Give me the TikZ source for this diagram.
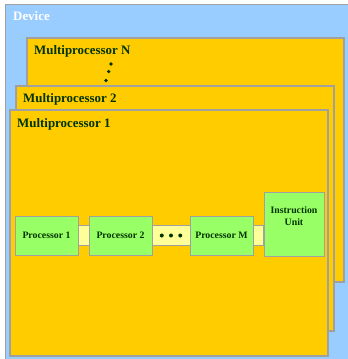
\documentclass[tikz,border=0pt]{standalone}
\usepackage{fontspec}
\setmainfont{Liberation Serif}
\usepackage{tikz}
\usetikzlibrary{positioning,calc}

\definecolor{devblue}{HTML}{99CCFF}
\definecolor{mpgold}{HTML}{FFCC00}
\definecolor{procgreen}{HTML}{99FF66}
\definecolor{barcream}{HTML}{FFFF99}
\definecolor{edgegray}{HTML}{A0A0A0}
\definecolor{textgreen}{HTML}{003300}

\pgfdeclarelayer{frames}
\pgfdeclarelayer{links}
\pgfsetlayers{frames,links,main}

\begin{document}
\begin{tikzpicture}[
  x=1pt,y=-1pt,
  mpbox/.style={draw=edgegray,fill=mpgold,line width=1.2pt},
  mplabel/.style={anchor=base west,inner sep=0,text=textgreen,font=\fontsize{12.9}{14}\selectfont\bfseries},
  proc/.style={draw=edgegray,fill=procgreen,line width=1pt,minimum width=63pt,minimum height=39pt,
    inner sep=0,text=textgreen,font=\fontsize{9.8}{12}\selectfont\bfseries},
  bar/.style={draw=edgegray,fill=barcream,line width=1pt},
  dotfill/.style={fill=textgreen}
]
  \useasboundingbox (0,0) rectangle (348,359);
  \begin{pgfonlayer}{frames}
  % device background
  \draw[draw=edgegray,fill=devblue,line width=0.8pt] (5.5,4) rectangle (352,363);
  % stacked multiprocessors
  \draw[mpbox] (27,38) rectangle (344,282);
  \draw[mpbox] (16,86) rectangle (334,331);
  \draw[mpbox] (10,110) rectangle (328,356);
  \end{pgfonlayer}
  \node[anchor=base west,inner sep=0,text=white,font=\fontsize{12.9}{14}\selectfont\bfseries] (device) at (13,20.7) {Device};
  \node[mplabel] (mpN) at (34,54) {Multiprocessor N};
  \fill[dotfill] (111,64) circle (1.8) (108.7,71.5) circle (1.8) (106,80.5) circle (1.8);
  \node[mplabel] (mp2) at (23,102) {Multiprocessor 2};
  \node[mplabel] (mp1) at (17,127.7) {Multiprocessor 1};

  % processors and instruction unit
  \node[proc] (p1) at (46.5,235.5) {Processor 1};
  \node[proc,right=10pt of p1] (p2) {Processor 2};
  \node[proc,right=37pt of p2] (pM) {Processor M};
  \node[proc,anchor=south west,minimum width=60pt,minimum height=64pt,
    align=center,text depth=16pt] (iu) at ([xshift=10pt,yshift=-1pt]pM.south east) {Instruction\\Unit};

  % connecting bar
  \begin{pgfonlayer}{links}
  \draw[bar] ([yshift=10pt]p1.east) rectangle ([yshift=-10pt]iu.west |- p1.east);
  \end{pgfonlayer}
  \fill[dotfill] ($(p2.east)!0.25!(pM.west)$) circle (2)
    ($(p2.east)!0.5!(pM.west)$) circle (2)
    ($(p2.east)!0.75!(pM.west)$) circle (2);
\end{tikzpicture}
\end{document}
